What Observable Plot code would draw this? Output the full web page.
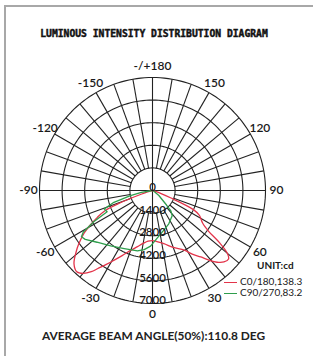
<!DOCTYPE html>
<html>
<head>
<meta charset="utf-8">
<script src="https://cdn.jsdelivr.net/npm/d3@7"></script>
<script src="https://cdn.jsdelivr.net/npm/@observablehq/plot@0.6"></script>
<style>
  html, body { margin: 0; padding: 0; background: #fff; overflow: hidden; }
  #wrap { position: relative; width: 313px; height: 356px; overflow: hidden; background: #fff; }
  #chart { position: absolute; left: 0; top: 0; }
  #border { position: absolute; left: 4px; top: 5px; width: 320px; height: 360px;
            border-left: 2px solid #a8a8a8; border-top: 2px solid #a8a8a8; }
  #title { position: absolute; left: 0; width: 308px; top: 28px; text-align: center;
           font-family: "DejaVu Sans Mono", monospace; font-weight: bold; font-size: 9.7px;
           line-height: 12px; color: #111; -webkit-text-stroke: 0.45px #111; }
  #caption { position: absolute; left: 0; width: 307px; top: 327px; text-align: center;
             font-family: Lato, sans-serif; font-weight: bold; font-size: 11.9px; line-height: 18px; color: #222; }
  #legend { position: absolute; left: 224px; top: 259px; font-family: Lato, sans-serif; font-size: 10px; color: #1a1a1a; }
  #legend .unit { position: absolute; left: 33px; top: 0; font-weight: bold; white-space: nowrap; line-height: 13px; }
  #legend .row { position: absolute; left: 0; white-space: nowrap; line-height: 12px; }
  #legend .sw { display: inline-block; width: 13px; height: 0; border-top: 1.5px solid; vertical-align: middle; margin-right: 3px; }
</style>
</head>
<body>
<div id="wrap">
  <div id="chart"></div>
  <div id="border"></div>
  <div id="title"></div>
  <div id="legend"></div>
  <div id="caption"></div>
</div>
<script>
// ---- data ----
const titleText = "LUMINOUS INTENSITY DISTRIBUTION DIAGRAM";
const captionText = "AVERAGE BEAM ANGLE(50%):110.8 DEG";
const unitText = "UNIT:cd";
const seriesNames = ["C0/180,138.3", "C90/270,83.2"];
const seriesColors = ["#e3344a", "#2e9e4c"];

const ringValues = [1400, 2800, 4200, 5600, 7000];
const ringLabelValues = [0, 1400, 2800, 4200, 5600, 7000];
const ringLabelTexts = ["0", "1400", "2800", "4200", "5600", "7000"];

const angleTickValues = [0, 30, 60, 90, 120, 150, 180, -150, -120, -90, -60, -30];
const angleTickTexts = ["0", "30", "60", "90", "120", "150", "-/+180", "-150", "-120", "-90", "-60", "-30"];

// C0/180 plane (red)
const c0Angles = [-90,-80,-72,-69,-67,-64,-61,-58,-54,-51,-47,-43,-40,-37,-35,-32,-29,-25,-20,-15,-10,-5,0,5,12,20,28,32,36,39,42,45,48,50,52,54,57,62,65,68,75,90];
const c0Values = [0,100,700,2200,3200,3800,4400,5000,5650,6100,6650,6880,6700,6300,5900,5400,4950,4450,3950,3600,3330,3150,3100,3180,3370,3750,4190,4650,5090,5550,5980,6260,6340,6050,5300,4300,3700,3300,2800,1200,200,0];

// C90/270 plane (green)
const c90Angles = [-90,-80,-77,-73,-69,-65,-62,-59,-57,-54,-47,-37,-26,-14,-8,-2,4,16,26,38,42,44,52,60,90];
const c90Values = [0,700,1400,2500,3200,3100,4100,5000,5250,5150,4700,4300,4000,3850,3700,3450,3050,2550,2300,1980,1700,1250,500,100,0];

// ---- geometry helpers ----
const W = 313, H = 356, CX = 152, CY = 190, R = 113;
const rMax = ringValues[ringValues.length - 1];
const k = rMax / R;
const rad = a => a * Math.PI / 180;
const px = (r, a) => r * Math.sin(rad(a));
const py = (r, a) => r * Math.cos(rad(a));

const ringPts = ringValues.flatMap(r => d3.range(0, 362, 2).map(a => ({r, a})));
const spokes = d3.range(-180, 180, 10).map(a => ({a, r0: a % 90 === 0 ? 0 : ringValues[0]}));
const angleTicks = angleTickValues.map((a, i) => ({a, t: angleTickTexts[i]}));
const ringLabels = ringLabelValues.map((v, i) => ({v, t: ringLabelTexts[i]}));
const red = c0Angles.map((a, i) => ({a, r: c0Values[i]}));
const green = c90Angles.map((a, i) => ({a, r: c90Values[i]}));
const labelR = rMax * 1.097;

const chart = Plot.plot({
  width: W, height: H, margin: 0,
  x: {domain: [-CX * k, (W - CX) * k], range: [0, W], axis: null},
  y: {domain: [-CY * k, (H - CY) * k], range: [0, H], axis: null},
  style: {background: "transparent", fontFamily: "Lato, sans-serif"},
  marks: [
    Plot.line(ringPts, {x: d => px(d.r, d.a), y: d => py(d.r, d.a), z: "r", stroke: "#222", strokeWidth: 1.1}),
    Plot.link(spokes, {x1: d => px(d.r0, d.a), y1: d => py(d.r0, d.a), x2: d => px(rMax, d.a), y2: d => py(rMax, d.a), stroke: "#222", strokeWidth: 1.1}),
    Plot.line(red, {x: d => px(d.r, d.a), y: d => py(d.r, d.a), stroke: seriesColors[0], strokeWidth: 1.3, curve: "catmull-rom"}),
    Plot.line(green, {x: d => px(d.r, d.a), y: d => py(d.r, d.a), stroke: seriesColors[1], strokeWidth: 1.3, curve: "linear"}),
    Plot.text(ringLabels, {x: 0, y: d => d.v, text: "t", dy: -3, fontSize: 11.5, fill: "#1a1a1a", fontWeight: 600}),
    Plot.text(angleTicks, {x: d => px(labelR, d.a), y: d => py(labelR, d.a), text: "t", fontSize: 12, fill: "#1a1a1a", fontWeight: 600})
  ]
});
document.getElementById("chart").appendChild(chart);

document.getElementById("title").textContent = titleText;
document.getElementById("caption").textContent = captionText;
const legend = document.getElementById("legend");
const u = document.createElement("div");
u.className = "unit"; u.textContent = unitText; legend.appendChild(u);
seriesNames.forEach((name, i) => {
  const row = document.createElement("div");
  row.className = "row";
  row.style.top = (16 + i * 11) + "px";
  const sw = document.createElement("span");
  sw.className = "sw"; sw.style.borderColor = seriesColors[i];
  row.appendChild(sw);
  row.appendChild(document.createTextNode(name));
  legend.appendChild(row);
});
</script>
</body>
</html>
